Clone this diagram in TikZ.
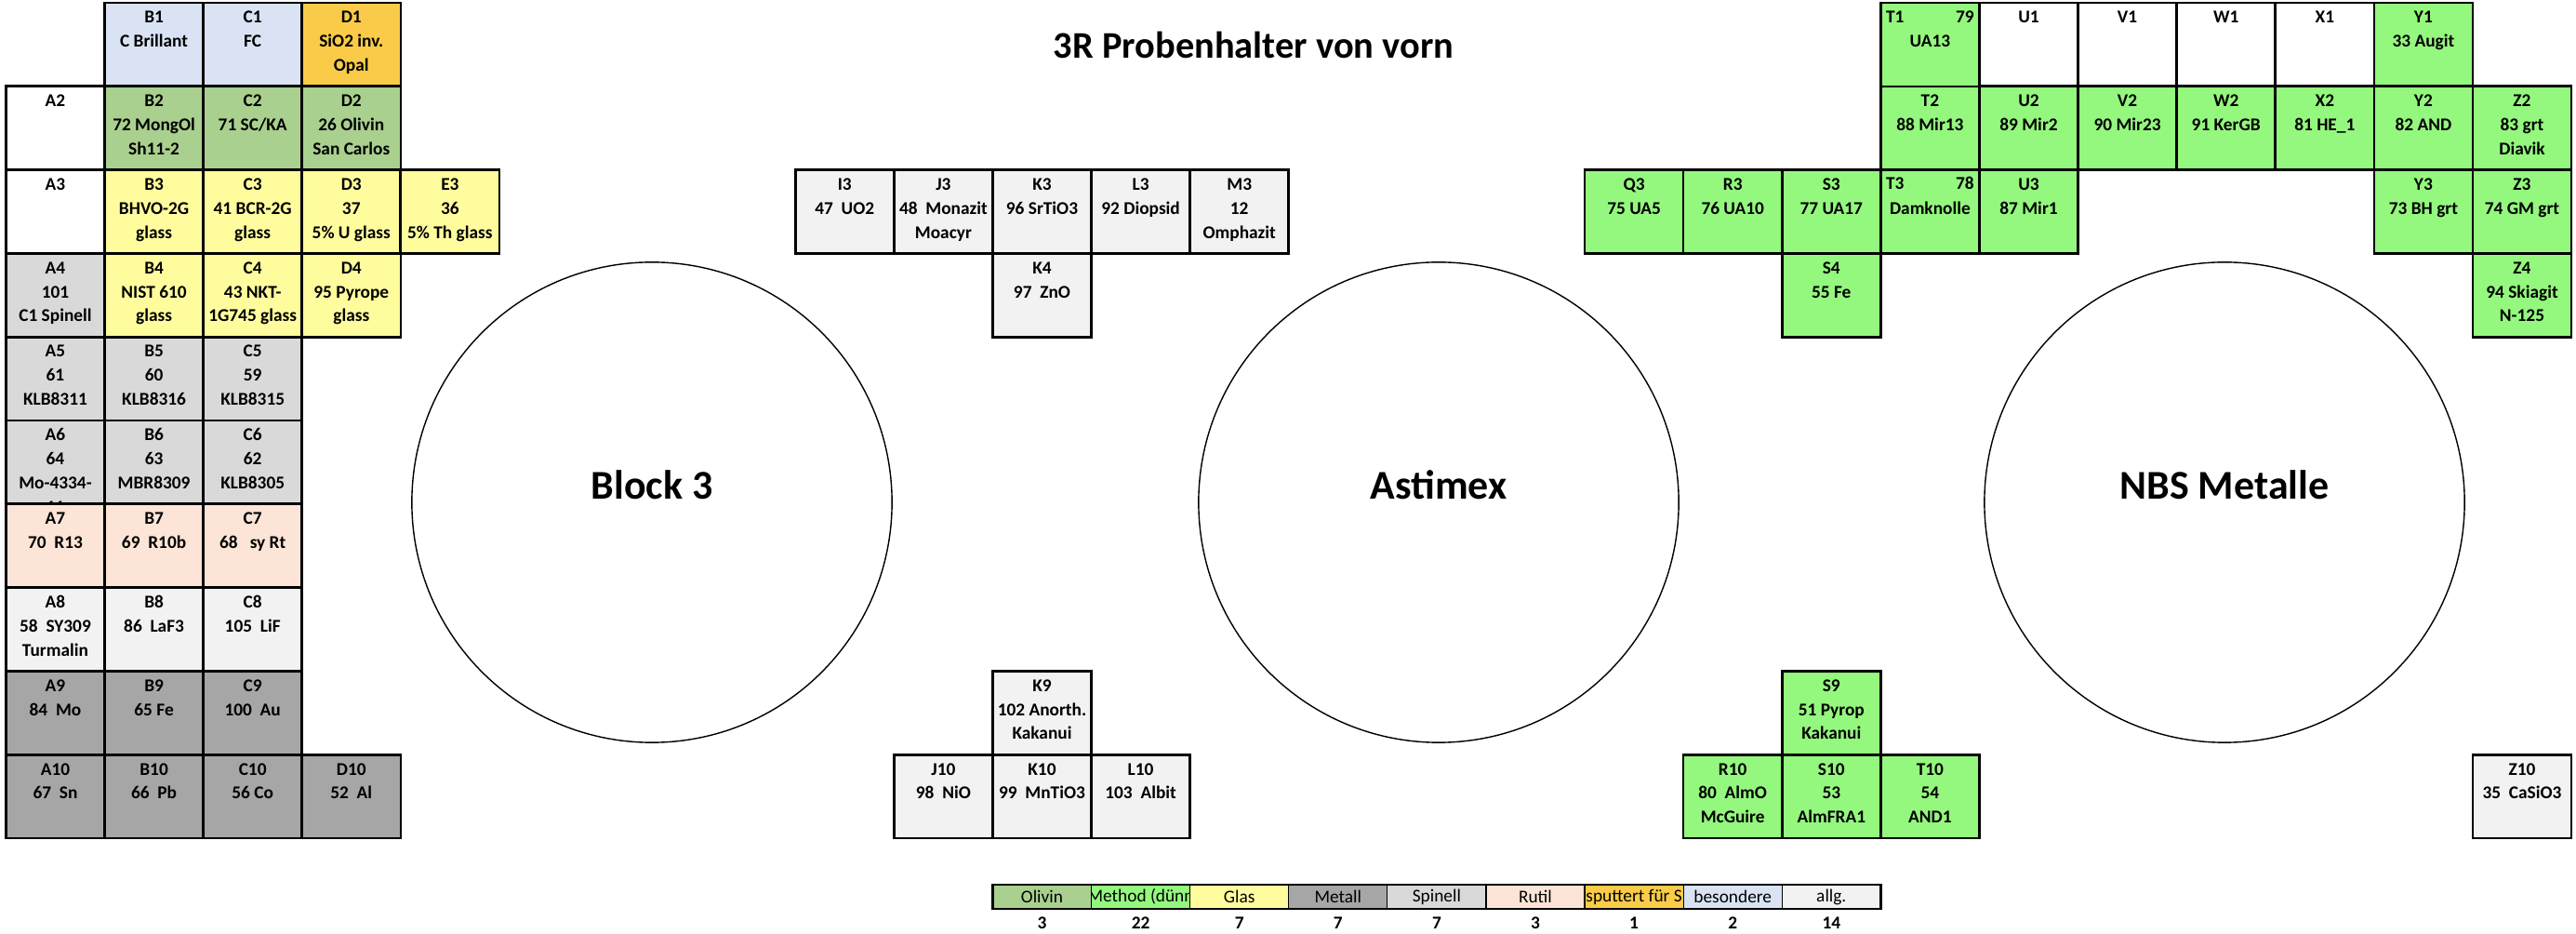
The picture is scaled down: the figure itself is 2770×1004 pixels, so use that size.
\documentclass[tikz,border=0pt]{standalone}
\usepackage{fontspec}
\setmainfont{Carlito}
\usepackage{xcolor}
\usepackage{tikz}
\usetikzlibrary{positioning}

% Farben wie in der Tabelle
\definecolor{olivin}{HTML}{A9D08E}
\definecolor{method}{HTML}{94F77E}
\definecolor{glas}{HTML}{FFFC9E}
\definecolor{metall}{HTML}{A6A6A6}
\definecolor{spinell}{HTML}{D9D9D9}
\definecolor{rutil}{HTML}{FCE4D6}
\definecolor{sputter}{HTML}{F9CB48}
\definecolor{besondere}{HTML}{DAE3F3}
\definecolor{allg}{HTML}{F2F2F2}

\newcommand\kopf{\rule{0pt}{6pt}}

\tikzset{
  probe/.style={draw, line width=0.75pt, minimum width=1.061cm, minimum height=0.898cm,
    inner sep=0pt, outer sep=0pt, anchor=north west},
  probetext/.style={font=\bfseries\fontsize{5.5}{7.35}\selectfont, align=center,
    anchor=north, inner sep=0pt},
  ecktext/.style={font=\bfseries\fontsize{5.5}{7.35}\selectfont, inner sep=0pt},
  block/.style={draw, circle, line width=0.4pt, minimum size=5.16cm, inner sep=0pt},
  blocktext/.style={font=\bfseries\fontsize{12.5}{15}\selectfont},
  titel/.style={font=\bfseries\fontsize{11.5}{14}\selectfont},
  legende/.style={draw, line width=0.35pt, minimum width=1.061cm, minimum height=0.26cm,
    inner sep=0pt, outer sep=0pt, anchor=north west},
  legendtext/.style={font=\fontsize{5.5}{7}\selectfont, inner sep=0pt, anchor=center},
  anzahl/.style={font=\bfseries\fontsize{5.5}{7}\selectfont, inner sep=0pt, anchor=north}
}

\begin{document}
\begin{tikzpicture}[x=0.01cm, y=-0.01cm]
    \useasboundingbox (0,0) rectangle (2770,1004);

    % --- Titel ---
    \node[titel] (titel) at (1348,48) {3R Probenhalter von vorn};

    % --- die drei Bloecke ---
    \node[block] (block3) at (701,540) {};
    \node[block] (astimex) at (1547,540) {};
    \node[block] (nbs) at (2392,540) {};
    \node[blocktext] (block3t) at (701,521) {Block 3};
    \node[blocktext] (astimext) at (1547,521) {Astimex};
    \node[blocktext] (nbst) at (2392,521) {NBS Metalle};

    % --- leere Felder ---
    \foreach \n/\c/\r/\t in {U1/20/1/U1, V1/21/1/V1, W1/22/1/W1, X1/23/1/X1, A2/0/2/A2, A3/0/3/A3}
        \node[probe, fill=white, label={[probetext]north:{\kopf\t}}] (\n) at ({6.4+106.1*\c},{3+89.8*(\r-1)}) {};

    % --- besondere / sputtert ---
    \foreach \n/\c/\r/\t in {B1/1/1/{B1\\C Brillant}, C1/2/1/{C1\\FC}}
        \node[probe, fill=besondere, label={[probetext]north:{\kopf\t}}] (\n) at ({6.4+106.1*\c},{3+89.8*(\r-1)}) {};
    \node[probe, fill=sputter, label={[probetext]north:{\kopf D1\\SiO2 inv.\\Opal}}] (D1) at ({6.4+106.1*3},3) {};

    % --- Olivin ---
    \foreach \n/\c/\r/\t in {B2/1/2/{B2\\72 MongOl\\Sh11-2}, C2/2/2/{C2\\71 SC\slash KA},
            D2/3/2/{D2\\26 Olivin\\San Carlos}}
        \node[probe, fill=olivin, label={[probetext]north:{\kopf\t}}] (\n) at ({6.4+106.1*\c},{3+89.8*(\r-1)}) {};

    % --- Glas ---
    \foreach \n/\c/\r/\t in {B3/1/3/{B3\\BHVO-2G\\glass}, C3/2/3/{C3\\41 BCR-2G\\glass},
            D3/3/3/{D3\\37\\5\% U glass}, E3/4/3/{E3\\36\\5\% Th glass},
            B4/1/4/{B4\\NIST 610\\glass}, C4/2/4/{C4\\43 NKT-\\1G745 glass}, D4/3/4/{D4\\95 Pyrope\\glass}}
        \node[probe, fill=glas, label={[probetext]north:{\kopf\t}}] (\n) at ({6.4+106.1*\c},{3+89.8*(\r-1)}) {};

    % --- Spinell ---
    \foreach \n/\c/\r/\t in {A4/0/4/{A4\\101\\C1 Spinell}, A5/0/5/{A5\\61\\KLB8311},
            B5/1/5/{B5\\60\\KLB8316}, C5/2/5/{C5\\59\\KLB8315}, A6/0/6/{A6\\64\\Mo-4334-\\11},
            B6/1/6/{B6\\63\\MBR8309}, C6/2/6/{C6\\62\\KLB8305}}
        \node[probe, fill=spinell, label={[probetext]north:{\kopf\t}}] (\n) at ({6.4+106.1*\c},{3+89.8*(\r-1)}) {};

    % --- Rutil ---
    \foreach \n/\c/\r/\t in {A7/0/7/{A7\\70~~R13}, B7/1/7/{B7\\69~~R10b}, C7/2/7/{C7\\68~~~sy Rt}}
        \node[probe, fill=rutil, label={[probetext]north:{\kopf\t}}] (\n) at ({6.4+106.1*\c},{3+89.8*(\r-1)}) {};

    % --- allgemein ---
    \foreach \n/\c/\r/\t in {A8/0/8/{A8\\58~~SY309\\Turmalin}, B8/1/8/{B8\\86~~LaF3}, C8/2/8/{C8\\105~~LiF},
            I3/8/3/{I3\\47~~UO2}, J3/9/3/{J3\\48~~Monazit\\Moacyr}, K3/10/3/{K3\\96 SrTiO3},
            L3/11/3/{L3\\92 Diopsid}, M3/12/3/{M3\\12\\Omphazit}, K4/10/4/{K4\\97~~ZnO},
            K9/10/9/{K9\\102 Anorth.\\Kakanui}, J10/9/10/{J10\\98~~NiO}, K10/10/10/{K10\\99~~MnTiO3},
            L10/11/10/{L10\\103~~Albit}, Z10/25/10/{Z10\\35~~CaSiO3}}
        \node[probe, fill=allg, label={[probetext]north:{\kopf\t}}] (\n) at ({6.4+106.1*\c},{3+89.8*(\r-1)}) {};

    % --- Metall ---
    \foreach \n/\c/\r/\t in {A9/0/9/{A9\\84~~Mo}, B9/1/9/{B9\\65 Fe}, C9/2/9/{C9\\100~~Au},
            A10/0/10/{A10\\67~~Sn}, B10/1/10/{B10\\66~~Pb}, C10/2/10/{C10\\56 Co}, D10/3/10/{D10\\52~~Al}}
        \node[probe, fill=metall, label={[probetext]north:{\kopf\t}}] (\n) at ({6.4+106.1*\c},{3+89.8*(\r-1)}) {};

    % --- Method (duenne Schicht) ---
    \foreach \n/\c/\r/\t in {Y1/24/1/{Y1\\33 Augit}, T2/19/2/{T2\\88 Mir13}, U2/20/2/{U2\\89 Mir2},
            V2/21/2/{V2\\90 Mir23}, W2/22/2/{W2\\91 KerGB}, X2/23/2/{X2\\81 HE\_1}, Y2/24/2/{Y2\\82 AND},
            Z2/25/2/{Z2\\83 grt\\Diavik}, Q3/16/3/{Q3\\75 UA5}, R3/17/3/{R3\\76 UA10}, S3/18/3/{S3\\77 UA17},
            U3/20/3/{U3\\87 Mir1}, Y3/24/3/{Y3\\73 BH grt}, Z3/25/3/{Z3\\74 GM grt}, S4/18/4/{S4\\55 Fe},
            Z4/25/4/{Z4\\94 Skiagit\\N-125}, S9/18/9/{S9\\51 Pyrop\\Kakanui},
            R10/17/10/{R10\\80~~AlmO\\McGuire}, S10/18/10/{S10\\53\\AlmFRA1}, T10/19/10/{T10\\54\\AND1}}
        \node[probe, fill=method, label={[probetext]north:{\kopf\t}}] (\n) at ({6.4+106.1*\c},{3+89.8*(\r-1)}) {};
    % T1 und T3: Nummer rechts oben
    \node[probe, fill=method, label={[probetext]north:{\kopf\\UA13}}] (T1) at ({6.4+106.1*19},3) {};
    \node[ecktext, anchor=base west] (T1a) at ([xshift=0.05cm, yshift=-0.212cm]T1.north west) {T1};
    \node[ecktext, anchor=base east] (T1b) at ([xshift=-0.05cm, yshift=-0.212cm]T1.north east) {79};
    \node[probe, fill=method, label={[probetext]north:{\kopf\\Damknolle}}] (T3) at ({6.4+106.1*19},{3+89.8*2}) {};
    \node[ecktext, anchor=base west] (T3a) at ([xshift=0.05cm, yshift=-0.212cm]T3.north west) {T3};
    \node[ecktext, anchor=base east] (T3b) at ([xshift=-0.05cm, yshift=-0.212cm]T3.north east) {78};

    % --- Legende mit Anzahl ---
    \foreach \n/\c/\f/\t/\z in {lolivin/10/olivin/Olivin/3, lmethod/11/method/{Method (dünn}/22,
            lglas/12/glas/Glas/7, lmetall/13/metall/Metall/7, lspinell/14/spinell/Spinell/7,
            lrutil/15/rutil/Rutil/3, lsputter/16/sputter/{sputtert für S}/1,
            lbesondere/17/besondere/besondere/2, lallg/18/allg/allg./14} {
        \node[legende, fill=\f, path picture={\node[legendtext] (\n-t) at (path picture bounding box.center) {\t};}]
            (\n) at ({6.4+106.1*\c},951) {};
        \node[anzahl, below=0.08cm of \n] (\n-z) {\z};
    }
    \draw[line width=0.75pt] (lolivin.north west) rectangle (lallg.south east);

\end{tikzpicture}
\end{document}
